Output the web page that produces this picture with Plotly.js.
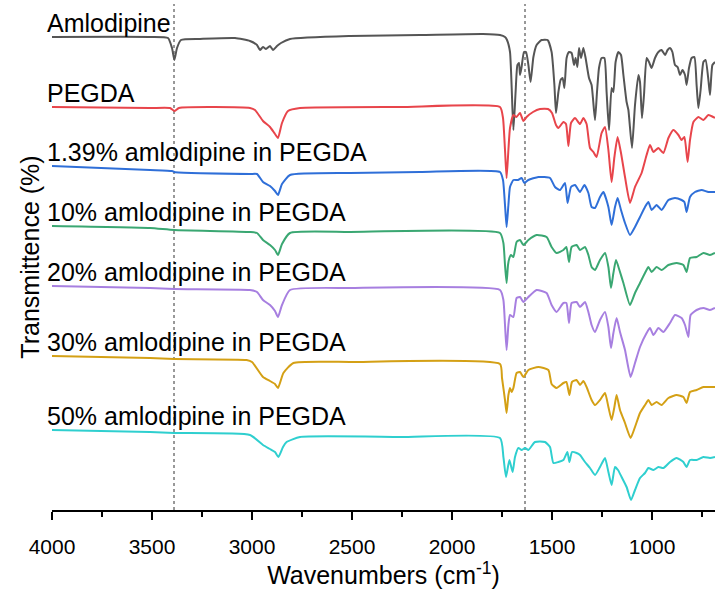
<!DOCTYPE html>
<html>
<head>
<meta charset="utf-8">
<script src="https://cdn.plot.ly/plotly-3.0.1.min.js"></script>
<style>html,body{margin:0;padding:0;background:#fff;}#chart{width:715px;height:592px;}</style>
</head>
<body>
<div id="chart"></div>
<script>
// Sample names (labels drawn next to each spectrum)
const sampleNames = ["Amlodipine", "PEGDA", "1.39% amlodipine in PEGDA", "10% amlodipine in PEGDA",
  "20% amlodipine in PEGDA", "30% amlodipine in PEGDA", "50% amlodipine in PEGDA"];
const sampleColors = ["#555555", "#e8454b", "#2f6fd8", "#3aa772", "#a77fe0", "#d4a015", "#2fcfcf"];

// Wavenumbers (cm-1) and stacked transmittance (arbitrary offset units)
const wnAml = [4000,3510,3420,3400,3388,3375,3355,3260,3085,3010,2975,2960,2945,2930,2910,2895,2875,2855,2810,2510,2160,1845,1760,1735,1725,1710,1693,1682,1673,1665,1660,1652,1640,1630,1618,1607,1593,1577,1552,1522,1502,1488,1480,1468,1457,1447,1438,1427,1415,1402,1390,1382,1373,1365,1355,1343,1332,1315,1302,1285,1275,1265,1252,1238,1227,1215,1202,1193,1182,1168,1155,1143,1127,1118,1100,1085,1068,1060,1050,1040,1027,1015,1002,985,968,952,935,922,910,898,885,872,860,848,835,827,815,802,788,777,768,757,743,732,718,710,698,685];
const tAml  = [473,473,472,462,450,462,470,471,472,469,465,460,463,461,464,460,464,467,471,474,475,476,475,473,470,458,380,418,445,447,435,443,458,458,445,428,453,465,470,470,458,425,397,418,430,432,422,452,458,457,445,452,443,462,452,462,452,432,425,390,418,442,452,452,418,380,422,418,448,458,455,435,408,400,362,405,435,428,392,415,452,448,442,452,458,460,455,460,462,458,445,443,435,440,435,425,442,452,453,425,402,420,448,450,430,415,445,448];

const wnPeg = [4000,3510,3410,3388,3365,3010,2985,2945,2910,2885,2870,2850,2820,2760,2260,1760,1745,1735,1727,1718,1710,1693,1678,1660,1643,1627,1595,1560,1520,1500,1480,1468,1443,1430,1418,1405,1385,1360,1343,1327,1310,1293,1277,1252,1235,1218,1202,1188,1172,1155,1135,1110,1085,1052,1027,1010,993,968,943,918,893,868,852,838,822,810,793,768,743,718,685];
const tPeg  = [403,402,402,399,402,402,400,389,383,376,372,387,399,402,403,403,392,360,332,360,382,395,393,397,389,393,398,401,401,397,385,382,388,386,364,387,392,386,392,386,362,358,353,377,383,360,328,353,373,357,333,307,323,337,355,365,358,362,357,372,380,375,370,373,348,370,388,393,390,395,392];

const wn139 = [4000,3510,3400,3388,3010,2975,2945,2910,2885,2870,2850,2810,2510,2160,1760,1745,1735,1727,1718,1710,1693,1670,1652,1638,1618,1568,1510,1485,1460,1435,1422,1405,1385,1360,1338,1318,1302,1285,1260,1243,1218,1202,1185,1172,1155,1135,1110,1085,1060,1035,1018,1002,977,952,918,885,852,838,827,810,785,752,718,685];
const t139  = [344,340,339,338,336,336,328,324,319,315,326,335,337,338,338,330,305,283,305,323,330,330,332,327,330,333,332,323,320,327,307,323,325,318,325,317,303,302,313,318,303,285,303,312,300,287,275,283,293,303,308,300,305,300,310,312,310,308,298,313,318,320,318,318];

const wn10 = [4000,3510,3388,3010,2975,2945,2910,2885,2870,2850,2810,2510,1760,1743,1735,1727,1720,1713,1705,1693,1677,1660,1643,1618,1577,1527,1502,1477,1443,1428,1415,1402,1377,1360,1335,1318,1302,1285,1260,1235,1218,1205,1193,1180,1163,1143,1110,1085,1060,1035,1018,1002,977,952,918,877,843,827,810,777,743,710,685];
const t10  = [284,282,280,278,277,270,265,260,255,266,277,278,277,267,245,227,245,252,255,253,268,270,265,270,275,273,263,257,260,263,248,263,265,260,263,255,243,240,250,257,243,222,237,250,240,227,205,217,227,237,243,238,243,240,245,247,245,238,252,253,257,255,257];

const wn20 = [4000,3510,3388,3010,2975,2945,2910,2885,2870,2850,2810,2510,1760,1743,1735,1727,1718,1710,1693,1677,1660,1643,1618,1577,1527,1502,1477,1443,1428,1415,1402,1377,1360,1335,1318,1302,1285,1260,1235,1218,1205,1193,1177,1160,1135,1107,1085,1060,1027,1010,993,968,943,910,885,852,835,818,807,777,743,710,685];
const t20  = [224,222,221,220,218,210,205,199,193,205,220,222,220,210,185,160,185,195,193,212,213,208,213,220,217,205,198,207,207,187,207,208,203,208,198,185,178,190,198,183,162,177,192,178,160,133,147,163,177,182,175,182,178,187,195,192,185,173,195,200,202,200,202];

const wn30 = [4000,3510,3388,3027,3000,2945,2910,2885,2870,2843,2793,2510,1760,1750,1735,1727,1718,1710,1702,1693,1677,1660,1643,1618,1568,1518,1502,1477,1443,1428,1413,1400,1377,1360,1343,1327,1302,1285,1260,1235,1218,1202,1188,1177,1160,1135,1107,1085,1060,1035,1018,1002,977,952,918,877,843,827,810,777,743,710,685];
const t30  = [154,152,151,150,148,133,129,126,122,137,147,148,146,132,110,97,115,122,118,122,137,138,133,140,143,140,126,122,127,128,115,128,130,125,129,123,110,105,110,117,103,90,103,115,100,87,72,83,97,105,110,105,108,105,112,115,113,107,118,120,123,123,123];

const wn50 = [4000,3510,3388,3010,2945,2910,2885,2868,2845,2827,2760,2260,1760,1743,1730,1713,1697,1685,1668,1652,1635,1618,1585,1535,1510,1493,1468,1443,1423,1413,1400,1377,1360,1335,1310,1285,1260,1235,1218,1202,1185,1170,1152,1127,1105,1085,1060,1035,1018,993,968,943,910,877,843,827,810,777,743,710,685];
const t50  = [80,78,77,75,65,61,58,53,63,68,73,73,72,53,33,50,38,53,62,60,62,60,68,68,63,47,48,50,58,48,58,57,55,48,42,35,43,52,38,25,43,40,33,23,10,20,32,37,42,40,43,42,48,52,48,43,50,50,53,52,53];

// Reference lines (cm-1)
const refLines = [3390, 1635];
// Axis ticks
const xTickVals = [4000, 3500, 3000, 2500, 2000, 1500, 1000];

const xs = [wnAml, wnPeg, wn139, wn10, wn20, wn30, wn50];
const ys = [tAml, tPeg, t139, t10, t20, t30, t50];

const FONT = "Liberation Sans, Arial, sans-serif";

const traces = xs.map((x, i) => ({
  x: x, y: ys[i], type: "scatter", mode: "lines", name: sampleNames[i],
  line: {color: sampleColors[i], width: 2, shape: "spline", smoothing: 0.5},
  hoverinfo: "x+y+name"
}));

const annotations = sampleNames.map((n, i) => ({
  text: n, xref: "paper", yref: "y", x: -0.011, y: ys[i][0] + 14,
  xanchor: "left", yanchor: "middle", showarrow: false,
  font: {family: FONT, size: 25, color: "#000"}
}));

const shapes = refLines.map(w => ({
  type: "line", xref: "x", yref: "paper", x0: w, x1: w, y0: 0, y1: 1,
  line: {color: "#333", width: 1, dash: "3px,3px"}, layer: "below"
}));

const layout = {
  width: 715, height: 592,
  margin: {l: 52, r: 0, t: 4, b: 82},
  paper_bgcolor: "#fff", plot_bgcolor: "#fff",
  showlegend: false,
  font: {family: FONT, color: "#000"},
  xaxis: {
    range: [4000, 685], tickvals: xTickVals, ticks: "outside", ticklen: 8, tickwidth: 1.5,
    tickcolor: "#000", showline: true, linecolor: "#000", linewidth: 1.5, showgrid: false, zeroline: false,
    tickfont: {family: FONT, size: 21, color: "#000"},
    ticklabelstandoff: 9,
    minor: {dtick: 250, ticks: "outside", ticklen: 5, tickwidth: 1.5, tickcolor: "#000", showgrid: false},
    title: {text: "Wavenumbers (cm<sup>-1</sup>)", font: {family: FONT, size: 25, color: "#000"}, standoff: 6}
  },
  yaxis: {
    range: [0, 506], showticklabels: false, ticks: "", showline: false, showgrid: false, zeroline: false,
    title: {text: "Transmittence (%)", font: {family: FONT, size: 25, color: "#000"}, standoff: 4}
  },
  annotations: annotations,
  shapes: shapes
};

Plotly.newPlot("chart", traces, layout, {displayModeBar: false, staticPlot: true});
</script>
</body>
</html>
